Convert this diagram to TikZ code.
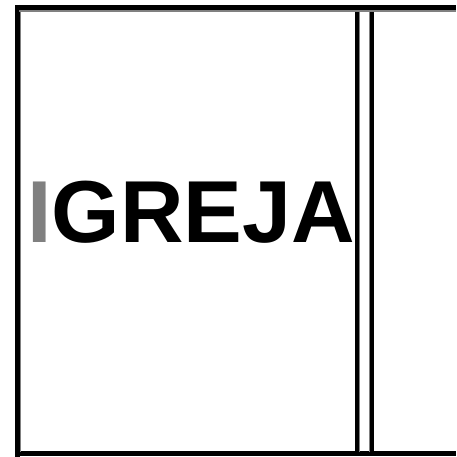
\documentclass[tikz,border=0pt]{standalone}
\usepackage{fontspec}
\setmainfont{Liberation Sans}
\usepackage{xcolor}
\usepackage{tikz}
\usetikzlibrary{positioning}

\begin{document}
\begin{tikzpicture}[x=1pt, y=-1pt,
		blackline/.style={line width=5pt, black},
		grayline/.style={line width=1.6pt, black!50}]
	\useasboundingbox (0,0) rectangle (456,457);
	% outer frame
	\draw[blackline] (17,5) -- (17,457);
	\draw[blackline] (15,7.5) -- (456,7.5);
	\draw[blackline] (15,453.8) -- (456,453.8);
	\draw[grayline] (20.4,10) -- (20.4,451.5);
	\draw[grayline] (19,11) -- (456,11);
	% double divider
	\draw[grayline, line width=1pt] (359.2,12) -- (359.2,451.5);
	\draw[grayline, line width=1pt] (369.2,12) -- (369.2,451.5);
	\draw[line width=4pt] (356.8,11.8) -- (356.8,451.5);
	\draw[line width=4pt] (371.6,11.8) -- (371.6,451.5);
	% title
	\node[anchor=base west, inner sep=0pt, font=\fontsize{88}{100}\selectfont\bfseries] (title) at (27,242.5)
		{\textcolor{black!50}{I}GREJA};
\end{tikzpicture}
\end{document}
